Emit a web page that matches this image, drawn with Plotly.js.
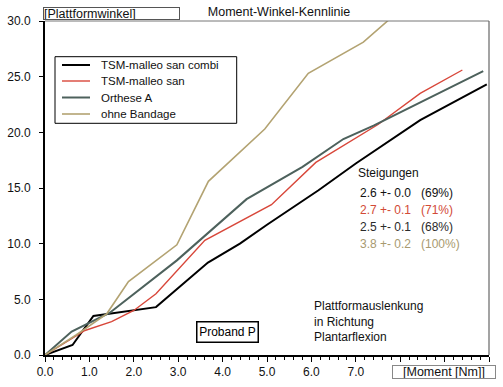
<!DOCTYPE html>
<html>
<head>
<meta charset="utf-8">
<script src="https://cdn.plot.ly/plotly-3.0.1.min.js"></script>
<style>html,body{margin:0;padding:0;background:#fff;}#chart{width:503px;height:387px;}</style>
</head>
<body>
<div id="chart"></div>
<script>
// ---- data ----
const seriesNames = ['TSM-malleo san combi', 'TSM-malleo san', 'Orthese A', 'ohne Bandage'];
const xCombi = [0, 0.62, 1.09, 2.0, 2.5, 3.67, 4.39, 5.0, 6.16, 7.0, 8.07, 8.45, 9.95];
const yCombi = [0, 0.9, 3.5, 4.0, 4.3, 8.3, 10.0, 11.7, 14.8, 17.2, 20.1, 21.1, 24.3];
const xSan = [0, 0.9, 1.5, 2.0, 2.5, 3.6, 5.1, 6.1, 7.5, 8.45, 9.4];
const ySan = [0, 2.2, 3.0, 4.0, 5.5, 10.3, 13.5, 17.3, 20.7, 23.5, 25.6];
const xOrth = [0, 0.6, 1.46, 2.97, 4.54, 5.8, 6.72, 7.4, 9.87];
const yOrth = [0, 2.1, 3.8, 8.5, 14.0, 16.9, 19.4, 20.6, 25.5];
const xBand = [0, 0.7, 1.39, 1.88, 2.97, 3.68, 4.95, 5.93, 7.17, 8.0];
const yBand = [0, 1.8, 3.7, 6.6, 9.9, 15.6, 20.3, 25.3, 28.1, 31.0];
const slopeValues = ['2.6 +- 0.0', '2.7 +- 0.1', '2.5 +- 0.1', '3.8 +- 0.2'];
const slopePercents = ['(69%)', '(71%)', '(68%)', '(100%)'];
const xTickVals = [0, 1, 2, 3, 4, 5, 6, 7, 8, 9, 10];
const xTickText = ['0.0', '1.0', '2.0', '3.0', '4.0', '5.0', '6.0', '7.0', '', '', ''];
const yTickVals = [0, 5, 10, 15, 20, 25, 30];
const yTickText = ['0.0', '5.0', '10.0', '15.0', '20.0', '25.0', '30.0'];

// ---- styles ----
const colors = ['#000000', '#d8473a', '#4d615c', '#b3a372'];
const textColors = ['#111111', '#d24a36', '#2a2a2a', '#a89a70'];
const widths = [2, 1.4, 2, 1.6];
const FONT = 'Liberation Sans, Arial, sans-serif';

const xs = [xCombi, xSan, xOrth, xBand];
const ys = [yCombi, ySan, yOrth, yBand];
const traces = seriesNames.map((n, i) => ({
  x: xs[i], y: ys[i], type: 'scatter', mode: 'lines', name: n, showlegend: false,
  line: {color: colors[i], width: widths[i]}
}));

// plot area in px
const L = 45, R = 489, T = 21, B = 355;
const W = 503, H = 387;
const px = v => (v - L) / (R - L);
const py = v => (B - v) / (B - T);

const ann = [];
const shapes = [
  {type: 'line', xref: 'paper', yref: 'paper', x0: 0, x1: 1, y0: 1, y1: 1, line: {color: '#777', width: 1}},
  {type: 'line', xref: 'paper', yref: 'paper', x0: 1, x1: 1, y0: 0, y1: 1, line: {color: '#666', width: 1.2}}
];

// legend (drawn manually for tight spacing)
shapes.push({type: 'rect', xref: 'paper', yref: 'paper', x0: px(55), x1: px(236.7), y0: py(56.7), y1: py(123.3),
  line: {color: '#000', width: 1}, fillcolor: '#fff', layer: 'above'});
const legY = [65, 81, 97.5, 114];
seriesNames.forEach((n, i) => {
  shapes.push({type: 'line', xref: 'paper', yref: 'paper', x0: px(62), x1: px(90), y0: py(legY[i]), y1: py(legY[i]),
    line: {color: colors[i], width: widths[i]}, layer: 'above'});
  ann.push({xref: 'paper', yref: 'paper', x: px(99), y: py(legY[i]), xanchor: 'left', yanchor: 'middle',
    text: n, showarrow: false, font: {family: FONT, size: 11.5, color: '#111'}});
});

ann.push({xref:'paper', yref:'paper', x:px(355.7), y:py(173), xanchor:'left', yanchor:'middle',
  text:'Steigungen', showarrow:false, font:{family:FONT, size:12, color:'#111'}});
const rowsY = [193, 210.5, 227, 243.5];
slopeValues.forEach((t, i) => {
  ann.push({xref:'paper', yref:'paper', x:px(358.3), y:py(rowsY[i]), xanchor:'left', yanchor:'middle',
    text:t, showarrow:false, font:{family:FONT, size:12, color:textColors[i]}});
  ann.push({xref:'paper', yref:'paper', x:px(419), y:py(rowsY[i]), xanchor:'left', yanchor:'middle',
    text:slopePercents[i], showarrow:false, font:{family:FONT, size:12, color:textColors[i]}});
});
ann.push({xref:'paper', yref:'paper', x:px(311.7), y:py(297), xanchor:'left', yanchor:'top', align:'left',
  text:'Plattformauslenkung<br>in Richtung<br>Plantarflexion', showarrow:false,
  font:{family:FONT, size:12, color:'#111'}});
ann.push({xref:'paper', yref:'paper', x:px(196), y:py(321), xanchor:'left', yanchor:'top',
  text:'Proband P', showarrow:false, font:{family:FONT, size:12, color:'#000'},
  bordercolor:'#000', borderwidth:1.5, borderpad:0, bgcolor:'#fff', width:60, height:19});
ann.push({xref:'paper', yref:'paper', x:px(43.3), y:py(7.3), xanchor:'left', yanchor:'top', align:'left',
  text:'[Plattformwinkel]', showarrow:false, font:{family:FONT, size:12.5, color:'#111'},
  bordercolor:'#555', borderwidth:1, borderpad:0, width:135, height:11});
ann.push({xref:'paper', yref:'paper', x:px(391.7), y:py(365), xanchor:'left', yanchor:'top', align:'center',
  text:'[Moment [Nm]]', showarrow:false, font:{family:FONT, size:12.5, color:'#111'},
  bordercolor:'#888', borderwidth:1, borderpad:0, bgcolor:'#fff', width:102, height:12});

const layout = {
  width: W, height: H,
  margin: {l: L, r: W - R, t: T, b: H - B, pad: 0},
  paper_bgcolor: '#fff', plot_bgcolor: '#fff',
  font: {family: FONT, size: 12, color: '#111'},
  title: {text: 'Moment-Winkel-Kennlinie', x: 279 / W, xanchor: 'center', y: 1 - 12 / H, yanchor: 'middle',
    font: {family: FONT, size: 12.5, color: '#111'}},
  showlegend: false,
  xaxis: {range: [0, 10], tickmode: 'array', tickvals: xTickVals, ticktext: xTickText,
    ticks: 'outside', ticklen: 5, tickwidth: 1, tickcolor: '#000', showgrid: false, zeroline: false,
    showline: true, linecolor: '#000', linewidth: 1.5, tickfont: {family: FONT, size: 12, color: '#111'},
    minor: {dtick: 0.2, tick0: 0, ticks: 'outside', ticklen: 3, tickcolor: '#000', showgrid: false}},
  yaxis: {range: [0, 30], tickmode: 'array', tickvals: yTickVals, ticktext: yTickText,
    ticks: 'outside', ticklen: 4, tickwidth: 1, tickcolor: '#000', showgrid: false, zeroline: false,
    showline: true, linecolor: '#000', linewidth: 2, tickfont: {family: FONT, size: 12, color: '#111'},
    ticklabelstandoff: 6},
  shapes: shapes,
  annotations: ann
};

Plotly.newPlot('chart', traces, layout, {staticPlot: true, displayModeBar: false});
</script>
</body>
</html>
